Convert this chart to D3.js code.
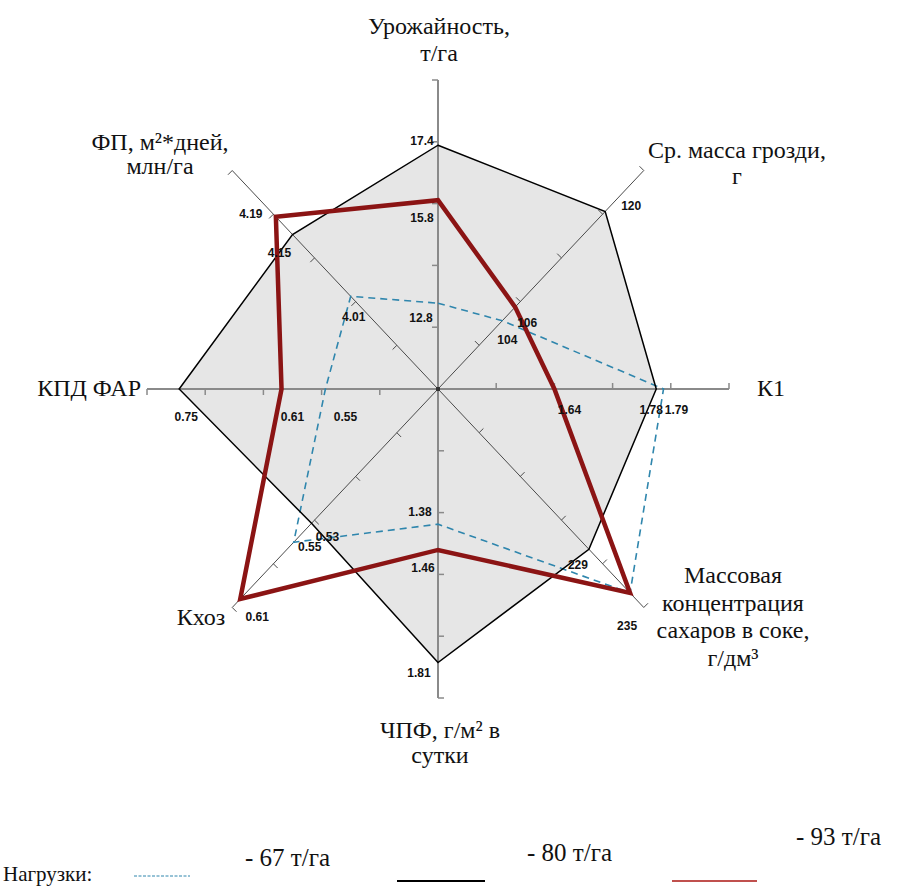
<!DOCTYPE html>
<html>
<head>
<meta charset="utf-8">
<script src="https://cdn.jsdelivr.net/npm/d3@7"></script>
<style>
  html, body { margin: 0; padding: 0; background: #fff; }
  svg { display: block; }
</style>
</head>
<body>
<script>
// Radar axes, clockwise from the top
const axisNames = [
  ["Урожайность,", "т/га"],
  ["Ср. масса грозди,", "г"],
  ["К1"],
  ["Массовая", "концентрация", "сахаров в соке,", "г/дм³"],
  ["ЧПФ, г/м² в", "сутки"],
  ["Кхоз"],
  ["КПД ФАР"],
  ["ФП, м²*дней,", "млн/га"]
];

// Value range shown along each axis (centre → outer tick)
const axisMin = [10.3, 94, 1.48, 207, 0.96, 0.388, 0.396, 3.80];
const axisMax = [19.3, 126, 1.88, 237, 1.92, 0.619, 0.794, 4.295];

// Loads (т/га) and the measured values per axis
const loads = ["67 т/га", "80 т/га", "93 т/га"];
const load67 = [12.8, 104, 1.79, 235, 1.38, 0.55, 0.55, 4.01];
const load80 = [17.4, 120, 1.78, 229, 1.81, 0.53, 0.75, 4.15];
const load93 = [15.8, 106, 1.64, 235, 1.46, 0.61, 0.61, 4.19];

const SERIF = '"Liberation Serif"';
const SANS = '"Liberation Sans"';

const W = 904, H = 890;
const cx = 438, cy = 389, rx = 291, ry = 309;
const nTicks = 5;

const svg = d3.select("body").append("svg")
  .attr("width", W).attr("height", H)
  .attr("viewBox", `0 0 ${W} ${H}`);

const n = axisNames.length;
const angle = i => i * 2 * Math.PI / n;
const rX = d3.scaleLinear().domain([0, 1]).range([0, rx]);
const rY = d3.scaleLinear().domain([0, 1]).range([0, ry]);
const axisScales = axisNames.map((_, i) =>
  d3.scaleLinear().domain([axisMin[i], axisMax[i]]).range([0, 1]));

const pos = (i, f) => [cx + rX(f) * Math.sin(angle(i)), cy - rY(f) * Math.cos(angle(i))];
const pointOf = (v, i) => pos(i, axisScales[i](v));

const series = [
  { name: loads[0], values: load67, color: "#2f86ad", width: 1.6, dash: "7,5", fill: "none" },
  { name: loads[1], values: load80, color: "#000000", width: 1.5, dash: null, fill: "#e6e6e6" },
  { name: loads[2], values: load93, color: "#8b1414", width: 4.5, dash: null, fill: "none" }
];

const line = d3.line().x(d => d[0]).y(d => d[1]).curve(d3.curveLinearClosed);

// filled area of the 80 т/га load
svg.append("path")
  .attr("d", line(load80.map(pointOf)))
  .attr("fill", series[1].fill)
  .attr("stroke", "none");

// axes with ticks
const axesG = svg.append("g");
axisNames.forEach((_, i) => {
  const end = pos(i, 1);
  const straight = i % 2 === 0;
  axesG.append("line")
    .attr("x1", cx).attr("y1", cy).attr("x2", end[0]).attr("y2", end[1])
    .attr("stroke", straight ? "#8a8a8a" : "#4a4a4a")
    .attr("stroke-width", straight ? 2 : 1);
  const tdx = -Math.cos(angle(i)) * 6, tdy = -Math.sin(angle(i)) * 6;
  d3.range(1, nTicks + 1).forEach(k => {
    const p = pos(i, k / nTicks);
    axesG.append("line")
      .attr("x1", p[0]).attr("y1", p[1])
      .attr("x2", p[0] + tdx).attr("y2", p[1] + tdy)
      .attr("stroke", straight ? "#8a8a8a" : "#4a4a4a")
      .attr("stroke-width", straight ? 1.5 : 1);
  });
});
axesG.append("rect").attr("x", cx - 2).attr("y", cy - 2).attr("width", 4).attr("height", 4).attr("fill", "#333");

// series outlines
series.forEach(s => {
  svg.append("path")
    .attr("d", line(s.values.map(pointOf)))
    .attr("fill", "none")
    .attr("stroke", s.color)
    .attr("stroke-width", s.width)
    .attr("stroke-dasharray", s.dash)
    .attr("stroke-linejoin", "miter");
});

// value labels: offset of each label from its point [dx, dy], per series and axis
const labelOffsets = [
  [[-17, 15], [5, 19], [13, 21], null, [-18, -12], [16, 5], [20, 28], [3, 21]],
  [[-16, -4], [26, -5], [-5, 21], [-11, 16], [-19, 10], [16, 14], [7, 28], [-13, 18]],
  [[-16, 18], [12, 16], [15, 21], [-3, 33], [-15, 18], [17, 18], [11, 28], [-25, -3]]
];
series.forEach((s, si) => {
  s.values.forEach((v, i) => {
    const off = labelOffsets[si][i];
    if (!off) return;
    const p = pointOf(v, i);
    svg.append("text")
      .style("font-family", SANS).style("font-weight", "bold")
      .attr("x", p[0] + off[0]).attr("y", p[1] + off[1])
      .attr("text-anchor", "middle").attr("dominant-baseline", "central")
      .attr("font-size", 12)
      .attr("fill", "#111")
      .text(String(v));
  });
});

// axis titles
const titleLayout = [
  { x: 439, y: 34, anchor: "middle", lh: 27 },
  { x: 737, y: 158, anchor: "middle", lh: 26 },
  { x: 757, y: 396, anchor: "start", lh: 26 },
  { x: 733, y: 583, anchor: "middle", lh: 27.7 },
  { x: 440, y: 738, anchor: "middle", lh: 25 },
  { x: 201, y: 625, anchor: "middle", lh: 26 },
  { x: 141, y: 396, anchor: "end", lh: 26 },
  { x: 160, y: 150, anchor: "middle", lh: 24 }
];
axisNames.forEach((lines, i) => {
  const L = titleLayout[i];
  const t = svg.append("text")
    .style("font-family", SERIF)
    .attr("text-anchor", L.anchor)
    .attr("font-size", 24).attr("fill", "#111");
  lines.forEach((ln, k) => {
    t.append("tspan").attr("x", L.x).attr("y", L.y + k * L.lh).text(ln);
  });
});

// legend
const lg = svg.append("g").style("font-family", SERIF).attr("fill", "#111");
lg.append("text").attr("x", 3).attr("y", 881).attr("font-size", 21).text("Нагрузки:");
const legendLayout = [
  { x1: 134, x2: 190, ly: 876, tx: 245, ty: 866, sw: 1, dash: "3,1.5", color: "#2f86ad" },
  { x1: 397, x2: 485, ly: 881, tx: 527, ty: 861, sw: 2, dash: null, color: "#000" },
  { x1: 672, x2: 757, ly: 881, tx: 796, ty: 845, sw: 2, dash: null, color: "#c0504d" }
];
loads.forEach((name, k) => {
  const L = legendLayout[k];
  lg.append("line").attr("x1", L.x1).attr("x2", L.x2).attr("y1", L.ly).attr("y2", L.ly)
    .attr("stroke", L.color).attr("stroke-width", L.sw).attr("stroke-dasharray", L.dash);
  lg.append("text").attr("x", L.tx).attr("y", L.ty).attr("font-size", 25).text("- " + name);
});
</script>
</body>
</html>
